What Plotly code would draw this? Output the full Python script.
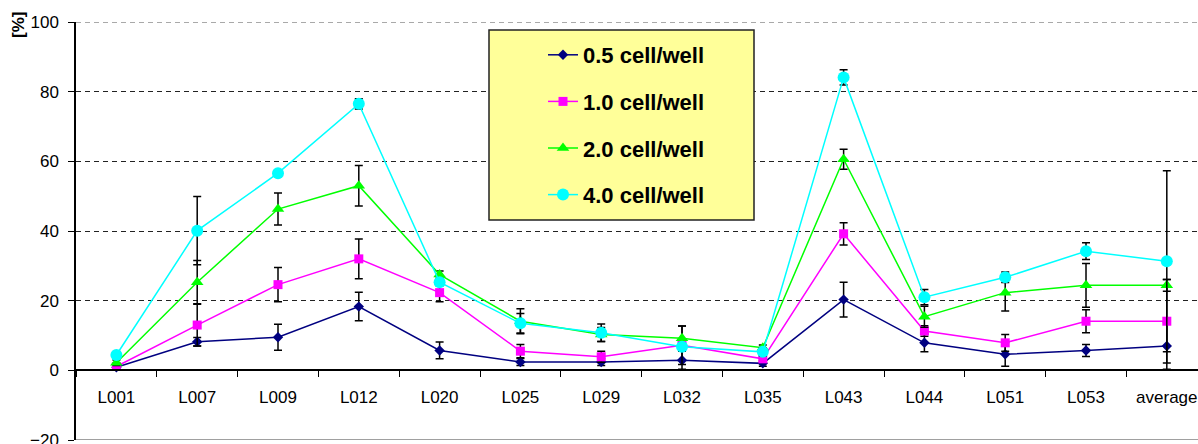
import plotly.graph_objects as go

# Clone lines per sample, recovery in percent
categories = ["L001", "L007", "L009", "L012", "L020", "L025", "L029", "L032",
              "L035", "L043", "L044", "L051", "L053", "average"]

cells_05 = [0.9, 8.2, 9.5, 18.3, 5.7, 2.4, 2.4, 2.9, 2.0, 20.3, 7.9, 4.6, 5.7, 7.0]
err_05 = [0.5, 1.2, 3.7, 4.1, 2.4, 1.0, 1.0, 2.6, 0.8, 5.0, 2.6, 3.4, 1.7, 6.7]

cells_10 = [1.1, 13.0, 24.6, 32.0, 22.3, 5.5, 3.9, 7.2, 3.3, 39.2, 11.3, 7.9, 14.1, 14.1]
err_10 = [0.8, 6.0, 4.9, 5.7, 2.6, 1.9, 1.6, 5.5, 1.0, 3.2, 1.5, 2.4, 3.3, 12.0]

cells_20 = [2.2, 25.3, 46.3, 53.0, 27.5, 14.1, 10.3, 9.2, 6.5, 60.6, 15.4, 22.3, 24.4, 24.4]
err_20 = [0.8, 6.2, 4.6, 5.8, 1.0, 3.6, 2.0, 3.5, 0.8, 2.9, 3.0, 5.3, 6.3, 1.7]

cells_40 = [4.4, 40.1, 56.6, 76.5, 25.3, 13.5, 10.8, 6.8, 5.3, 84.1, 21.0, 26.7, 34.2, 31.3]
err_40 = [0.8, 9.8, 0.5, 1.5, 1.0, 2.8, 2.5, 1.0, 1.2, 2.2, 2.2, 1.5, 2.4, 26.0]

series_names = ["0.5 cell/well", "1.0 cell/well", "2.0 cell/well", "4.0 cell/well"]
y_ticks = [-20, 0, 20, 40, 60, 80, 100]

FONT = "Liberation Sans, Arial, sans-serif"

series = [
    (series_names[0], cells_05, err_05, "#000080", "diamond", 8),
    (series_names[1], cells_10, err_10, "#FF00FF", "square", 9),
    (series_names[2], cells_20, err_20, "#00FF00", "triangle-up", 11),
    (series_names[3], cells_40, err_40, "#00FFFF", "circle", 12),
]

fig = go.Figure()
for i, (name, vals, errs, color, symbol, size) in enumerate(series):
    fig.add_trace(go.Scatter(
        x=categories, y=vals, name=name, mode="lines+markers",
        legendgroup=f"g{i}",
        line=dict(color=color, width=1.5),
        marker=dict(color=color, symbol=symbol, size=size),
        error_y=dict(type="data", array=errs, visible=True,
                     color="black", thickness=1.5, width=4),
    ))

# legend frame
fig.add_shape(type="rect", xref="paper", yref="paper",
              x0=(489 - 76) / 1122, x1=(754 - 76) / 1122,
              y0=(440 - 220) / 418, y1=(440 - 30) / 418,
              fillcolor="#FFFF99", line=dict(color="#222222", width=1.5),
              layer="above")

# top gridline and lower frame edge
fig.add_shape(type="line", xref="paper", yref="y", x0=0, x1=1, y0=100, y1=100,
              line=dict(color="#555555", width=1, dash="5px,4px"), layer="below")
fig.add_shape(type="line", xref="paper", yref="y", x0=0, x1=1, y0=-20, y1=-20,
              line=dict(color="#808080", width=1.5), layer="above")

fig.add_annotation(text="<b>[%]</b>", xref="paper", yref="paper",
                   x=(19 - 76) / 1122, y=(440 - 25) / 418,
                   xanchor="center", yanchor="middle",
                   textangle=-90, showarrow=False,
                   font=dict(family=FONT, size=17, color="black"))

fig.update_layout(
    width=1198, height=444,
    margin=dict(l=76, r=0, t=22, b=4, autoexpand=False),
    paper_bgcolor="white", plot_bgcolor="white",
    font=dict(family=FONT, size=17, color="black"),
    showlegend=True,
    legend=dict(x=(543 - 76) / 1122, y=(440 - 34) / 418, xanchor="left", yanchor="top",
                bgcolor="rgba(0,0,0,0)", borderwidth=0,
                font=dict(family=FONT, size=22, color="black", weight="bold"),
                tracegroupgap=15),
    xaxis=dict(
        type="category", range=[-0.5, 13.386],
        anchor="free", position=20 / 120,
        automargin=False,
        showline=True, linecolor="black", linewidth=1.5,
        ticks="outside", ticklen=6, tickcolor="black", tickwidth=1,
        tickson="boundaries", showgrid=False,
        ticklabelstandoff=12,
        ticklabeloverflow="allow",
        tickfont=dict(family=FONT, size=17, color="black"),
    ),
    yaxis=dict(
        range=[-20, 100], tickvals=y_ticks,
        automargin=False,
        showline=True, linecolor="black", linewidth=1.5,
        ticks="outside", ticklen=6, tickcolor="black",
        showgrid=True, gridcolor="#222222", gridwidth=1, griddash="5px,4px",
        zeroline=False,
        ticklabelstandoff=6,
        ticklabeloverflow="allow",
        tickfont=dict(family=FONT, size=17, color="black"),
    ),
)

fig.write_html("out.html")
